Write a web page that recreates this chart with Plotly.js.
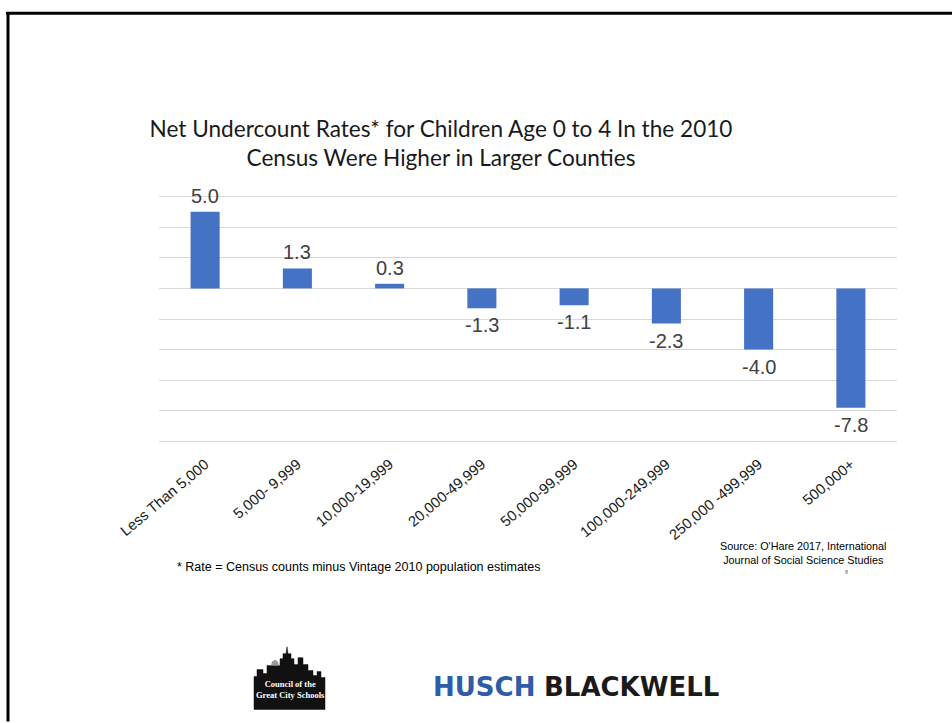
<!DOCTYPE html>
<html>
<head>
<meta charset="utf-8">
<script src="https://cdn.plot.ly/plotly-3.0.1.min.js"></script>
<style>html,body{margin:0;padding:0;background:#fff;}#chart{width:952px;height:723px;}</style>
</head>
<body>
<div id="chart"></div>
<script>
// ---- data ----
const categories = ["Less Than 5,000", "5,000- 9,999", "10,000-19,999", "20,000-49,999",
                    "50,000-99,999", "100,000-249,999", "250,000 -499,999", "500,000+"];
const undercountRates = [5.0, 1.3, 0.3, -1.3, -1.1, -2.3, -4.0, -7.8];
const titleLines = ["Net Undercount Rates* for Children Age 0 to 4 In the 2010",
                    "Census Were Higher in Larger Counties"];
const footnote = "* Rate = Census counts minus Vintage 2010 population estimates";
const sourceLines = ["Source: O'Hare 2017, International", "Journal of Social Science Studies"];

// ---- geometry helpers (plot area in pixels) ----
const W = 952, H = 723;
const M = {l: 159, r: 55, t: 194.5, b: 279.5};
const PW = W - M.l - M.r, PH = H - M.t - M.b;
const px = x => (x - M.l) / PW;
const py = y => (H - M.b - y) / PH;

function pathFromPixels(pts) {
  return 'M' + pts.map(p => px(p[0]).toFixed(5) + ',' + py(p[1]).toFixed(5)).join(' L') + ' Z';
}

const skyline = [
  [254,711],[254,678],[257,678],[257,671],[263,671],[263,675],[267,675],[267,667],
  [280,667],[280,660],[283,660],[283,655],[286,655],[287,648],[288,655],[291,655],
  [291,660],[294,660],[294,666],[298,666],[298,659],[303,659],[303,666],[308,666],
  [308,672],[313,672],[313,677],[317,677],[317,673],[321,673],[321,679],[325,679],[325,711]
];

const trace = {
  type: 'bar',
  x: categories,
  y: undercountRates,
  marker: {color: '#4472C4'},
  width: 0.315,
  hoverinfo: 'x+y'
};

// value labels placed at each bar's end through the axes
const valueLabels = categories.map((c, i) => ({
  x: c, y: undercountRates[i], xref: 'x', yref: 'y',
  text: undercountRates[i].toFixed(1),
  showarrow: false, xanchor: 'center', yanchor: 'middle',
  yshift: undercountRates[i] >= 0 ? 16 : -17,
  font: {family: 'Liberation Sans, Arial, sans-serif', size: 20, color: '#404040'}
}));

const layout = {
  width: W, height: H,
  margin: M,
  paper_bgcolor: '#ffffff',
  plot_bgcolor: '#ffffff',
  showlegend: false,
  title: {
    text: titleLines.join('<br>'),
    x: 441 / W, xanchor: 'center', xref: 'container',
    y: 1 - 137 / H, yanchor: 'middle', yref: 'container',
    font: {family: 'Lato, Noto Sans, sans-serif', size: 22.6, color: '#1a1a1a'}
  },
  xaxis: {
    tickangle: -40,
    tickfont: {family: 'Liberation Sans, Arial, sans-serif', size: 14.8, color: '#1a1a1a'},
    showline: false, showgrid: false, zeroline: false,
    ticks: '', ticklabelstandoff: 9,
    fixedrange: true
  },
  yaxis: {
    range: [-10.1, 6.1], dtick: 2, tick0: 0,
    showticklabels: false, ticks: '',
    showgrid: true, gridcolor: '#d9d9d9', gridwidth: 1,
    zeroline: true, zerolinecolor: '#d9d9d9', zerolinewidth: 1,
    showline: false, fixedrange: true
  },
  bargap: 0.685,
  shapes: [
    // slide frame (top and left edges)
    {type: 'line', xref: 'paper', yref: 'paper', x0: px(6), x1: px(952), y0: py(12), y1: py(12),
     line: {color: '#000', width: 3}},
    {type: 'line', xref: 'paper', yref: 'paper', x0: px(8), x1: px(8), y0: py(11), y1: py(723),
     line: {color: '#000', width: 3}},
    // Council of the Great City Schools skyline logo
    {type: 'path', xref: 'paper', yref: 'paper', path: pathFromPixels(skyline),
     fillcolor: '#111111', line: {color: '#111111', width: 0.5}},
    {type: 'path', xref: 'paper', yref: 'paper',
     path: pathFromPixels([[271,667],[272,663],[275,661],[278,663],[279,667]]),
     fillcolor: '#9a9a9a', line: {width: 0}}
  ],
  annotations: valueLabels.concat([
    {text: footnote, xref: 'paper', yref: 'paper', x: px(175), y: py(568),
     xanchor: 'left', yanchor: 'middle', showarrow: false,
     font: {family: 'Liberation Sans, Arial, sans-serif', size: 12.5, color: '#000'}},
    {text: sourceLines.join('<br>'), xref: 'paper', yref: 'paper', x: px(803), y: py(554),
     xanchor: 'center', yanchor: 'middle', showarrow: false, align: 'center',
     font: {family: 'Liberation Sans, Arial, sans-serif', size: 10.8, color: '#000'}},
    {text: '8', xref: 'paper', yref: 'paper', x: px(846), y: py(573),
     xanchor: 'center', yanchor: 'middle', showarrow: false,
     font: {family: 'Liberation Sans, Arial, sans-serif', size: 5.5, color: '#666'}},
    {text: '<b>Council of the<br>Great City Schools</b>', xref: 'paper', yref: 'paper', x: px(290), y: py(691),
     xanchor: 'center', yanchor: 'middle', showarrow: false, align: 'center',
     font: {family: 'Liberation Serif, DejaVu Serif, serif', size: 8.5, color: '#ffffff'}},
    {text: '<b>HUSCH</b>', xref: 'paper', yref: 'paper', x: px(431), y: py(688),
     xanchor: 'left', yanchor: 'middle', showarrow: false,
     font: {family: 'DejaVu Sans, sans-serif', size: 26, color: '#2E5CA8'}},
    {text: '<b>BLACKWELL</b>', xref: 'paper', yref: 'paper', x: px(542), y: py(688),
     xanchor: 'left', yanchor: 'middle', showarrow: false,
     font: {family: 'DejaVu Sans, sans-serif', size: 26, color: '#1a1a1a'}}
  ])
};

Plotly.newPlot('chart', [trace], layout, {displayModeBar: false, staticPlot: true});
</script>
</body>
</html>
